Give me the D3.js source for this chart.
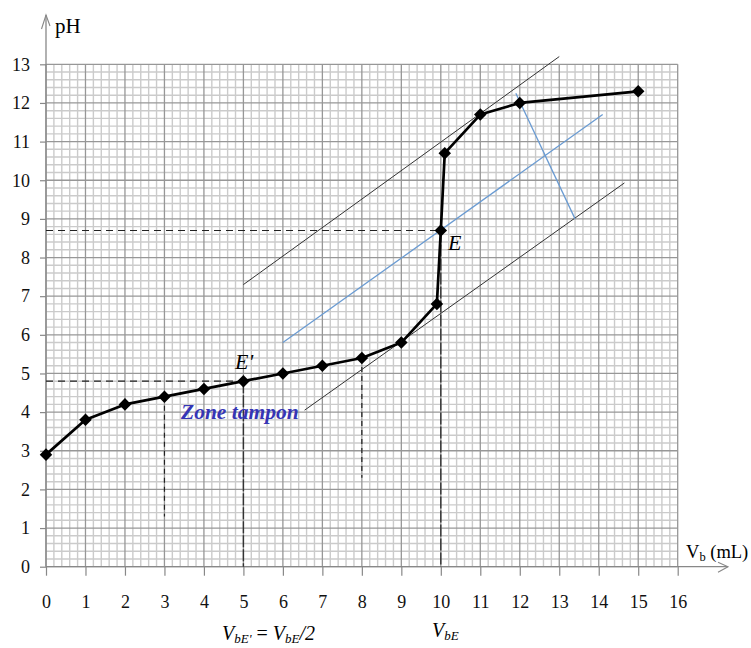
<!DOCTYPE html>
<html><head><meta charset="utf-8">
<script src="https://cdn.jsdelivr.net/npm/d3@7"></script>
<style>
body{margin:0;background:#fff;}
svg{display:block;}
text{font-family:"Liberation Serif","DejaVu Serif",serif;}
</style></head>
<body><svg id="c" width="751" height="648"></svg>
<script>
// Data
const vb = [0,1,2,3,4,5,6,7,8,9,9.9,10,10.1,11,12,15];
const ph = [2.9,3.8,4.2,4.4,4.6,4.8,5.0,5.2,5.4,5.8,6.8,8.7,10.7,11.7,12.0,12.3];
const xTicks = [0,1,2,3,4,5,6,7,8,9,10,11,12,13,14,15,16];
const yTicks = [0,1,2,3,4,5,6,7,8,9,10,11,12,13];
const tangentUpper = [[5.0,7.3],[13.0,13.2]];
const tangentLower = [[6.55,4.05],[14.65,9.93]];
const parallelMid = [[6.0,5.8],[14.1,11.7]];
const perpSeg = [[11.9,12.25],[13.4,9.0]];
const eq = {vb:10, ph:8.7};
const half = {vb:5, ph:4.8};
const guideA = [[3,4.4],[3,1.3]];
const guideB = [[8,5.4],[8,2.3]];

const svg = d3.select("#c");
const x = d3.scaleLinear().domain([0,16]).range([46,677.7]);
const y = d3.scaleLinear().domain([0,13]).range([566.7,64.3]);

// Grid
const g = svg.append("g");
const minorX = d3.range(0,80+1).map(i=>i/5);
const minorY = d3.range(0,65+1).map(i=>i/5);
g.selectAll(".mx").data(minorX.filter(v=>Math.abs(v-Math.round(v))>1e-6)).join("line")
 .attr("x1",d=>x(d)).attr("x2",d=>x(d)).attr("y1",y(0)).attr("y2",y(13))
 .attr("stroke","#cbcbcb").attr("stroke-width",1.4);
g.selectAll(".my").data(minorY.filter(v=>Math.abs(v-Math.round(v))>1e-6)).join("line")
 .attr("y1",d=>y(d)).attr("y2",d=>y(d)).attr("x1",x(0)).attr("x2",x(16))
 .attr("stroke","#cbcbcb").attr("stroke-width",1.4);
g.selectAll(".Mx").data(xTicks).join("line")
 .attr("x1",d=>x(d)).attr("x2",d=>x(d)).attr("y1",y(0)).attr("y2",y(13))
 .attr("stroke","#979797").attr("stroke-width",1.3);
g.selectAll(".My").data(yTicks).join("line")
 .attr("y1",d=>y(d)).attr("y2",d=>y(d)).attr("x1",x(0)).attr("x2",x(16))
 .attr("stroke","#979797").attr("stroke-width",1.3);

// Axes
const ax = svg.append("g").attr("transform",`translate(0,${y(0)})`)
 .call(d3.axisBottom(x).tickValues(xTicks).tickSize(9).tickPadding(20).tickFormat(d3.format("d")));
const ay = svg.append("g").attr("transform",`translate(${x(0)},0)`)
 .call(d3.axisLeft(y).tickValues(yTicks).tickSize(6).tickPadding(10).tickFormat(d3.format("d")));
[ax,ay].forEach(a=>{
  a.select(".domain").remove();
  a.attr("font-size",18).attr("font-family","Liberation Serif, serif");
  a.selectAll(".tick line").attr("stroke","#888").attr("stroke-width",1.2);
  a.selectAll(".tick text").attr("fill","#111");
});
// axis lines with arrows
svg.append("line").attr("x1",x(0)).attr("x2",728).attr("y1",y(0)).attr("y2",y(0)).attr("stroke","#888").attr("stroke-width",1.3);
svg.append("path").attr("d",`M718,${y(0)-4.5}L728,${y(0)}L718,${y(0)+5.5}`).attr("fill","none").attr("stroke","#888").attr("stroke-width",1.1);
svg.append("line").attr("x1",x(0)).attr("x2",x(0)).attr("y1",y(0)).attr("y2",15).attr("stroke","#888").attr("stroke-width",1.3);
svg.append("path").attr("d",`M${x(0)-4.5},29L${x(0)},15L${x(0)+4},26`).attr("fill","none").attr("stroke","#888").attr("stroke-width",1.1);

svg.append("text").attr("x",55).attr("y",33).attr("font-size",21).text("pH");
const vl = svg.append("text").attr("x",686).attr("y",558).attr("font-size",18.5);
vl.append("tspan").text("V");
vl.append("tspan").attr("font-size",12.5).attr("dy",3).text("b");
vl.append("tspan").attr("dy",-3).text(" (mL)");

// Guides
const line = d3.line().x(d=>x(d[0])).y(d=>y(d[1]));
const dark = "#222";
svg.append("path").attr("d",line([[0,eq.ph],[eq.vb,eq.ph]])).attr("stroke",dark).attr("stroke-width",1.2).attr("stroke-dasharray","7,5").attr("fill","none");
svg.append("path").attr("d",line([[eq.vb,eq.ph],[eq.vb,0]])).attr("stroke","#333").attr("stroke-width",1.4).attr("stroke-dasharray","12,2").attr("fill","none");
svg.append("path").attr("d",line([[0,half.ph],[half.vb,half.ph]])).attr("stroke",dark).attr("stroke-width",1.2).attr("stroke-dasharray","7,5").attr("fill","none");
svg.append("path").attr("d",line([[half.vb,half.ph],[half.vb,0]])).attr("stroke","#333").attr("stroke-width",1.4).attr("stroke-dasharray","12,2").attr("fill","none");
[guideA,guideB].forEach(gd=>svg.append("path").attr("d",line(gd)).attr("stroke",dark).attr("stroke-width",1.2).attr("stroke-dasharray","5,4").attr("fill","none"));

// Tangents
[tangentUpper,tangentLower].forEach(t=>svg.append("path").attr("d",line(t)).attr("stroke","#333").attr("stroke-width",1).attr("fill","none"));
[parallelMid,perpSeg].forEach(t=>svg.append("path").attr("d",line(t)).attr("stroke","#6a9bd2").attr("stroke-width",1.3).attr("fill","none"));

// Curve
const pts = vb.map((v,i)=>[v,ph[i]]);
svg.append("path").attr("d",line(pts)).attr("stroke","#000").attr("stroke-width",2.7).attr("fill","none").attr("stroke-linejoin","round");
svg.selectAll(".pt").data(pts).join("path")
 .attr("transform",d=>`translate(${x(d[0])},${y(d[1])})`)
 .attr("d",d3.symbol(d3.symbolDiamond2,100)).attr("fill","#000");

// Labels
svg.append("text").attr("x",448).attr("y",250).attr("font-size",22).attr("font-style","italic").text("E");
svg.append("text").attr("x",235).attr("y",369).attr("font-size",22).attr("font-style","italic").text("E'");
svg.append("text").attr("x",181).attr("y",419).attr("font-size",21.5).attr("font-style","italic").attr("font-weight","bold").attr("fill","#3535b5").text("Zone tampon");

const b1 = svg.append("text").attr("x",222).attr("y",640).attr("font-size",20).attr("font-style","italic");
b1.append("tspan").text("V");
b1.append("tspan").attr("font-size",13).attr("dy",3).text("bE'");
b1.append("tspan").attr("dy",-3).attr("font-style","normal").text(" = ");
b1.append("tspan").text("V");
b1.append("tspan").attr("font-size",13).attr("dy",3).text("bE");
b1.append("tspan").attr("dy",-3).text("/2");
const b2 = svg.append("text").attr("x",432).attr("y",637).attr("font-size",20).attr("font-style","italic");
b2.append("tspan").text("V");
b2.append("tspan").attr("font-size",13).attr("dy",3).text("bE");
</script></body></html>
